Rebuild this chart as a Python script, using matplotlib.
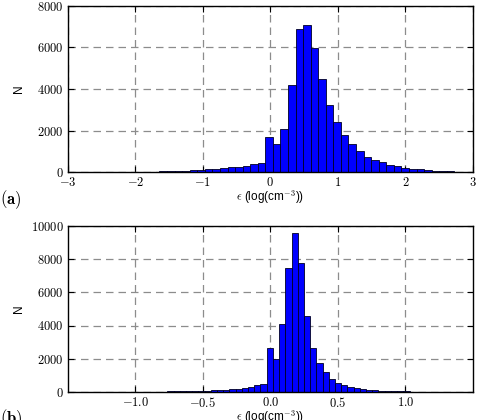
import numpy as np
import matplotlib
matplotlib.use("Agg")
import matplotlib.pyplot as plt
from matplotlib.ticker import FuncFormatter

plt.rcParams['mathtext.fontset'] = 'cm'
plt.rcParams['font.family'] = ['Liberation Sans', 'DejaVu Sans']

# panel (a): bin edges start and width, counts per bin
a_start, a_width = -2.986, 0.112
a_counts = [5, 6, 7, 8, 9, 11, 13, 15, 18, 21, 25, 30, 37, 46, 58, 72, 90, 110,
            135, 160, 190, 230, 270, 320, 380, 455,
            1690, 1350, 2100, 4180, 6890, 7090, 5960, 4490, 3235, 2405, 1770,
            1350, 1030, 750, 600, 470, 370, 290, 220, 170, 130, 100, 75, 55,
            40, 28, 18, 10]

# panel (b)
b_start, b_width = -1.499, 0.046
b_counts = [1, 1, 1, 1, 2, 2, 3, 3, 4, 5, 6, 8, 10, 12, 15, 18, 22, 27, 33, 40,
            48, 58, 70, 85, 105, 130, 160, 195, 240, 310, 400, 500,
            2640, 1990, 4100, 7440, 9560, 7770, 4570, 2640, 1750, 1170, 770, 520,
            400, 300, 230, 170, 130, 100, 80, 60, 45, 35, 25, 18, 12, 8]

a_xticks = [-3, -2, -1, 0, 1, 2, 3]
a_yticks = [0, 2000, 4000, 6000, 8000]
b_xticks = [-1.0, -0.5, 0.0, 0.5, 1.0]
b_yticks = [0, 2000, 4000, 6000, 8000, 10000]

xlabel = r'$\epsilon$ (log(cm$^{-3}$))'


def style_axis(ax, xticks, yticks, xlim, ylim, xfmt):
    ax.set_xlim(*xlim)
    ax.set_ylim(*ylim)
    ax.set_xticks(xticks)
    ax.set_yticks(yticks)
    ax.xaxis.set_major_formatter(FuncFormatter(lambda v, p: '$' + xfmt.format(v).replace('-', '-') + '$'))
    ax.yaxis.set_major_formatter(FuncFormatter(lambda v, p: '$%d$' % v))
    ax.tick_params(direction='in', top=True, right=True, length=4, width=0.8,
                   labelsize=9, pad=3)
    ax.grid(True, color='#8c8c8c', linestyle=(0, (6, 4)), linewidth=0.9)
    ax.set_axisbelow(True)
    for s in ax.spines.values():
        s.set_linewidth(1.0)
    ax.set_ylabel('N', fontsize=8.5)
    ax.yaxis.set_label_coords(-0.105, 0.5)
    ax.set_xlabel(xlabel, fontsize=8.5)
    ax.xaxis.set_label_coords(0.5, -0.095)


fig = plt.figure(figsize=(4.81, 4.20), dpi=100)
ax1 = fig.add_axes([0.141, 0.590, 0.842, 0.396])
ax2 = fig.add_axes([0.141, 0.067, 0.842, 0.395])

a_edges = a_start + a_width * np.arange(len(a_counts) + 1)
b_edges = b_start + b_width * np.arange(len(b_counts) + 1)

ax1.hist(a_edges[:-1], bins=a_edges, weights=a_counts, color='#0000ff',
         edgecolor='#000022', linewidth=0.6)
ax2.hist(b_edges[:-1], bins=b_edges, weights=b_counts, color='#0000ff',
         edgecolor='#000022', linewidth=0.6)

style_axis(ax1, a_xticks, a_yticks, (-3, 3), (0, 8000), '{:.0f}')
style_axis(ax2, b_xticks, b_yticks, (-1.5, 1.5), (0, 10000), '{:.1f}')

fig.text(0.0, 0.524, r'$\mathbf{(a)}$', fontsize=12, va='center', ha='left')
fig.text(0.0, 0.003, r'$\mathbf{(b)}$', fontsize=12, va='center', ha='left')

fig.savefig('out.png', dpi=100)
